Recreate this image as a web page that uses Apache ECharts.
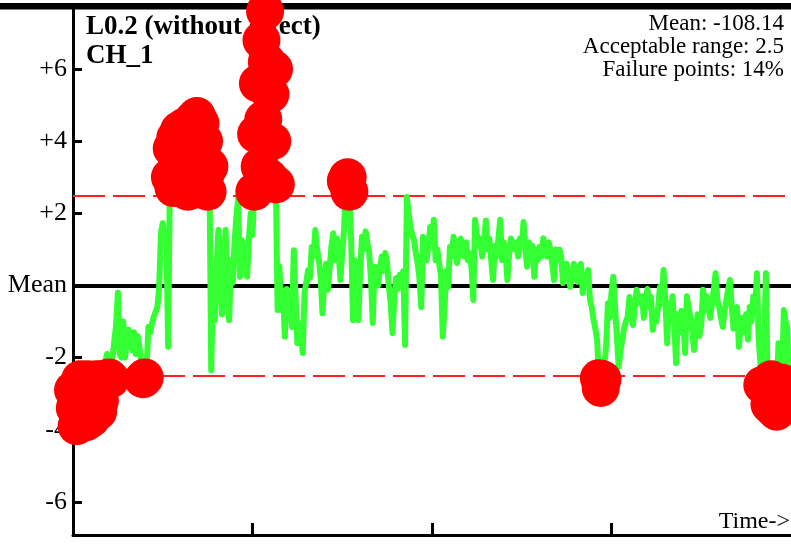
<!DOCTYPE html>
<html><head><meta charset="utf-8">
<script src="https://cdn.jsdelivr.net/npm/echarts@6/dist/echarts.min.js"></script>
<style>html,body{margin:0;padding:0;background:#fff}#c{width:791px;height:544px}</style>
</head><body><div id="c"></div>
<script>
const titleLines = ['L0.2 (without effect)', 'CH_1'];
const statLines = ['Mean: -108.14', 'Acceptable range: 2.5', 'Failure points: 14%'];
const xAxisName = 'Time->';
const acceptableRange = 2.5;
const meanValue = 0;
const yTicks = [-6, -4, -2, 0, 2, 4, 6];
const xTicks = [0, 100, 200, 300];

// deviation from the mean, one sample per time step (time = sample index 0..399)
const deviation = [
  -2.9,-3.4,-3.9,-3.6,-2.6,-3.2,-2.7,-3.8,-2.6,-3.0,
  -3.7,-2.7,-3.3,-2.6,-3.5,-3.2,-2.6,-2.2,-2.1,-1.9,
  -2.55,-2.6,-2.0,-2.0,-1.1,-0.2,-1.9,-2.0,-1.0,-2.0,
  -1.5,-1.23,-1.6,-1.8,-1.3,-1.9,-1.4,-1.7,-2.1,-2.6,
  -2.55,-2.3,-1.15,-1.3,-1.05,-0.87,-0.9,-0.6,-0.06,1.45,
  1.73,1.2,1.45,-1.7,3.0,3.8,2.7,4.1,3.4,4.3,
  2.8,3.9,4.4,3.2,2.6,4.2,3.7,4.6,3.0,4.7,
  4.2,4.5,3.6,4.0,3.1,2.6,3.3,-2.35,0.24,-0.96,
  0.5,1.54,0.3,-0.8,0.6,1.54,0.2,-0.96,0.7,0.07,
  1.2,1.9,2.4,0.24,1.26,0.9,0.5,0.24,1.3,2.0,
  1.4,2.6,4.2,5.6,3.3,6.8,4.6,7.6,6.2,3.0,
  5.3,4.0,6.0,2.8,-0.68,0.53,-0.68,-0.2,-1.42,-0.1,
  -0.9,-0.5,-1.15,0.98,-0.3,-1.6,-1.04,-1.3,-1.87,-0.2,
  0.1,0.43,0.2,1.07,0.8,1.54,1.0,0.7,0.2,-0.77,
  0.1,0.6,-0.12,0.5,1.1,1.45,0.7,1.3,0.9,0.15,
  0.9,1.54,2.9,3.0,2.6,1.2,-0.96,0.7,0.1,-0.96,
  0.4,1.35,1.0,1.5,1.2,0.9,0.2,-1.04,0.52,0.3,
  0.0,0.5,0.8,0.4,0.9,0.6,-0.04,-0.5,-1.32,-0.3,
  0.2,-0.1,0.3,0.1,0.4,-1.65,2.45,2.0,1.62,1.4,
  1.26,0.9,0.62,0.2,-0.6,1.35,1.0,0.7,1.1,1.62,
  1.2,1.82,0.7,1.0,0.6,0.3,-1.42,-0.6,0.4,-0.04,
  1.07,0.8,1.35,1.0,0.62,1.0,1.3,1.1,0.8,1.2,
  0.7,0.9,0.5,-0.4,1.82,1.4,1.1,1.3,0.8,1.2,
  1.8,1.0,1.3,0.7,0.15,1.1,0.8,1.3,1.82,0.7,
  1.2,0.9,0.15,0.9,1.3,1.35,1.0,1.2,0.8,1.3,
  1.1,1.76,1.0,0.52,1.2,0.9,1.1,0.24,1.0,0.7,
  1.07,0.8,1.31,1.0,0.8,1.2,1.0,0.6,0.15,1.0,
  0.7,1.0,0.8,0.07,0.4,0.6,0.3,-0.04,0.3,0.6,
  0.4,0.1,0.5,0.6,-0.21,0.3,0.1,0.43,-0.4,-0.6,
  -0.96,-1.2,-1.51,-2.57,-2.84,-2.6,-2.2,-1.7,-0.49,-0.9,
  -0.2,0.24,-0.6,-1.42,-2.26,-1.8,-1.5,-1.2,-1.0,-0.87,
  -0.32,-0.7,-1.1,-0.6,-0.12,-0.4,-0.5,-0.3,-0.9,-0.5,
  -0.1,-0.6,-0.32,-1.23,-0.8,-1.0,-0.6,-0.04,-0.5,0.43,
  -0.4,-1.6,-0.5,-0.9,-0.3,-1.1,-2.15,-0.8,-1.3,-0.7,
  -1.0,-1.87,-0.3,-0.6,-0.9,-1.3,-1.79,-1.2,-0.8,-1.4,
  -1.1,-0.12,-0.7,-0.3,-0.6,-0.9,-0.5,-0.1,0.34,-0.4,
  -0.6,-0.9,-1.15,-0.7,-0.4,-0.1,0.15,-0.6,-1.2,-0.8,
  -0.6,-1.7,-1.1,-0.9,-1.3,-0.8,-1.5,-0.6,-1.0,-0.3,
  -0.7,0.34,-1.5,-2.2,-2.76,-1.8,0.34,-2.9,-3.3,-2.6,
  -3.4,-3.0,-3.5,-1.6,-2.2,-2.7,-0.68,-1.0,-1.2,-3.3
];
const time = deviation.map((_, i) => i);

const lineData = time.map((t, i) => [t, deviation[i]]);
const failData = lineData.filter(d => Math.abs(d[1]) > acceptableRange);
const serif = '"Liberation Serif", "Times New Roman", Times, serif';

const chart = echarts.init(document.getElementById('c'), null, {renderer: 'canvas'});
chart.setOption({
  animation: false,
  backgroundColor: '#ffffff',
  grid: {left: 73, right: 0, top: 6, bottom: 9, containLabel: false},
  xAxis: {
    type: 'value', min: 0, max: 400,
    axisLine: {show: true, onZero: false, lineStyle: {color: '#000', width: 3}},
    axisTick: {show: true, inside: true, length: 12, customValues: xTicks, lineStyle: {color: '#000', width: 3}},
    axisLabel: {show: false},
    splitLine: {show: false}
  },
  yAxis: {
    type: 'value', min: -6.92, max: 7.75,
    axisLine: {show: true, onZero: false, lineStyle: {color: '#000', width: 3}},
    axisTick: {show: true, inside: true, length: 9, customValues: yTicks, lineStyle: {color: '#000', width: 3}},
    axisLabel: {
      customValues: yTicks, margin: 6, color: '#000', fontFamily: serif, fontSize: 26,
      formatter: v => v === meanValue ? 'Mean' : (v > 0 ? '+' + v : String(v))
    },
    splitLine: {show: false}
  },
  graphic: {elements: [
    {type: 'rect', z: 0, shape: {x: 0, y: 3, width: 791, height: 6.5}, style: {fill: '#000'}},
    {type: 'text', z: 0, x: 86, y: 27, style: {text: titleLines[0], font: 'bold 27px ' + serif, fill: '#000', verticalAlign: 'middle', align: 'left'}},
    {type: 'text', z: 0, x: 86, y: 56, style: {text: titleLines[1], font: 'bold 27px ' + serif, fill: '#000', verticalAlign: 'middle', align: 'left'}},
    {type: 'text', z: 0, x: 784, y: 24, style: {text: statLines[0], font: '23px ' + serif, fill: '#000', verticalAlign: 'middle', align: 'right'}},
    {type: 'text', z: 0, x: 784, y: 47, style: {text: statLines[1], font: '23px ' + serif, fill: '#000', verticalAlign: 'middle', align: 'right'}},
    {type: 'text', z: 0, x: 784, y: 70, style: {text: statLines[2], font: '23px ' + serif, fill: '#000', verticalAlign: 'middle', align: 'right'}},
    {type: 'text', z: 0, x: 790, y: 522, style: {text: xAxisName, font: '24px ' + serif, fill: '#000', verticalAlign: 'middle', align: 'right'}}
  ]},
  series: [
    {
      type: 'line', z: 1, data: [], silent: true,
      markLine: {
        z: 1, silent: true, symbol: 'none', animation: false,
        label: {show: false},
        data: [
          {yAxis: meanValue, lineStyle: {color: '#000', width: 4, type: 'solid'}},
          {yAxis: acceptableRange, lineStyle: {color: '#ff2020', width: 1.8, type: [32, 8]}},
          {yAxis: -acceptableRange, lineStyle: {color: '#ff2020', width: 1.8, type: [32, 8]}}
        ]
      }
    },
    {
      type: 'line', z: 3, data: lineData, showSymbol: false, symbol: 'none',
      lineStyle: {color: '#33ff33', width: 6, join: 'round', cap: 'round'}
    },
    {
      type: 'scatter', z: 4, data: failData, symbol: 'circle', symbolSize: 38,
      itemStyle: {color: '#ff0000', opacity: 1}
    }
  ]
});
</script>
</body></html>
